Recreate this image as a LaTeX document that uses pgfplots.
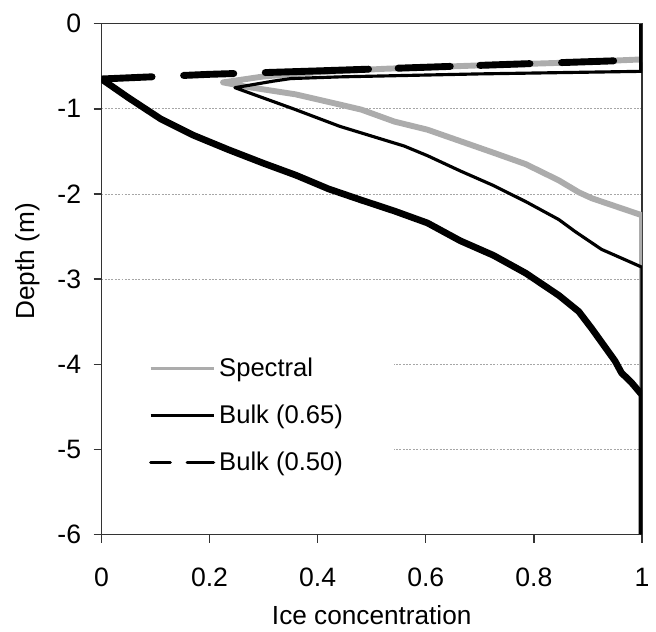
\documentclass[border=0pt]{standalone}
\usepackage{fontspec}
\setmainfont{Liberation Sans}
\usepackage{pgfplots}
\pgfplotsset{compat=1.18}
\definecolor{spec}{RGB}{172,172,172}

\begin{document}
\begin{tikzpicture}
\begin{axis}[
  width=274.5pt, height=259.5pt, scale only axis,
  xmin=0, xmax=1, ymin=-6, ymax=0,
  xtick={0,0.2,0.4,0.6,0.8,1},
  xticklabels={0,0.2,0.4,0.6,0.8,1},
  ytick={-6,-5,-4,-3,-2,-1,0},
  yticklabels={-6,-5,-4,-3,-2,-1,0},
  tick align=outside, major tick length=4pt,
  xtick pos=bottom, ytick pos=left,
  ymajorgrids,
  grid style={gray!70, dash pattern=on 1pt off 0.7pt, line width=0.4pt},
  axis line style={black!80, line width=0.7pt},
  tick style={black!80, line width=0.7pt},
  ticklabel style={font=\fontsize{13.5}{15}\selectfont},
  xticklabel style={yshift=-9.5pt},
  yticklabel style={xshift=-2.8pt},
  xlabel={Ice concentration}, ylabel={Depth (m)},
  label style={font=\fontsize{13.3}{15}\selectfont},
  xlabel style={at={(axis description cs:0.5,-0.158)}, anchor=center},
  ylabel style={at={(axis description cs:-0.136,0.535)}, anchor=center},
  legend cell align=left,
  legend style={at={(axis cs:0,-3.8)}, anchor=north west, draw=none, fill=white,
    inner xsep=24pt, inner ysep=3pt, row sep=9pt,
    font=\fontsize{13}{15}\selectfont},
]
% Spectral
\addplot[spec, line width=3pt, line join=round,
  legend image code/.code={\draw[spec, line width=1.6pt] (1pt,0pt) -- (33pt,0pt);}]
  table {
x y
1 0
1 -0.42
0.85 -0.46
0.7 -0.49
0.524 -0.53
0.40 -0.57
0.30 -0.62
0.225 -0.69
0.271 -0.744
0.359 -0.83
0.441 -0.95
0.481 -1.01
0.542 -1.15
0.603 -1.245
0.664 -1.38
0.725 -1.515
0.785 -1.65
0.846 -1.84
0.883 -1.98
0.907 -2.05
1 -2.25
1 -6
};
\addlegendentry{Spectral}
% Bulk (0.65)
\addplot[black, line width=1.6pt, line join=round,
  legend image code/.code={\draw[black, line width=1.6pt] (1pt,0pt) -- (33pt,0pt);}]
  table {
x y
1 0
1 -0.56
0.7 -0.59
0.441 -0.625
0.35 -0.645
0.318 -0.675
0.247 -0.752
0.355 -1.0
0.441 -1.206
0.56 -1.437
0.603 -1.55
0.664 -1.73
0.725 -1.90
0.785 -2.09
0.846 -2.30
0.876 -2.44
0.925 -2.65
0.968 -2.77
1 -2.86
1 -6
};
\addlegendentry{Bulk (0.65)}
% Bulk (0.50)
\addplot[black, line width=3.5pt, line cap=round,
  dash pattern=on 25.75pt off 16pt on 25.5pt off 16pt on 52.5pt off 15pt on 26.5pt off 15pt on 25.5pt off 16pt on 26.5pt off 30pt,
  legend image code/.code={\draw[black, line width=1.6pt] (1pt,0pt) -- (11pt,0pt) (19.5pt,0pt) -- (33pt,0pt);}]
  table {
x y
0 -0.65
0.2 -0.595
0.4 -0.555
0.6 -0.512
0.8 -0.468
1 -0.426
};
\addlegendentry{Bulk (0.50)}
% thick profile
\addplot[black, line width=3.4pt, line join=round, forget plot]
  table {
x y
0 -0.65
0.05 -0.87
0.11 -1.12
0.17 -1.31
0.235 -1.48
0.30 -1.64
0.36 -1.78
0.42 -1.94
0.48 -2.07
0.542 -2.20
0.603 -2.34
0.664 -2.55
0.725 -2.72
0.785 -2.93
0.846 -3.19
0.883 -3.38
0.907 -3.58
0.95 -3.96
0.962 -4.10
0.98 -4.21
1 -4.36
1 -6
};
\addplot[black, line width=3.5pt, forget plot] table {
x y
1 0
1 -0.56
};
\end{axis}
\useasboundingbox ([xshift=-51.5pt,yshift=12pt]current axis.north west) rectangle ([xshift=2pt,yshift=-41.5pt]current axis.south east);
\end{tikzpicture}
\end{document}
